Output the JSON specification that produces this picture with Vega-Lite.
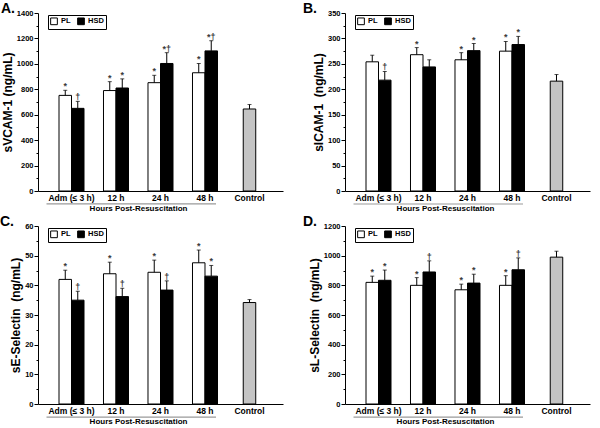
{
  "$schema": "https://vega.github.io/schema/vega-lite/v6.json",
  "padding": {"left": 0, "top": 2, "right": 4, "bottom": 2},
  "background": "white",
  "config": {
    "font": "Liberation Sans",
    "view": {"stroke": null},
    "axis": {"domainColor": "black", "domainWidth": 1, "tickColor": "black", "labelColor": "black", "titleColor": "black", "labelFontWeight": "bold", "titleFontWeight": "bold", "grid": false, "labelOverlap": false},
    "axisY": {"titleFontSize": 12, "titlePadding": 2, "labelFontSize": 7.5, "labelPadding": 1, "format": "d", "labelOverlap": false, "labelBound": false, "labelFlush": false},
    "title": {"fontSize": 14, "fontWeight": "bold", "color": "black", "anchor": "start", "frame": "group", "offset": -7}
  },
  "data": {"values": [
    {"panel": "A", "time": "Adm (≤ 3 h)", "group": "PL", "value": 752, "upper": 792, "note": "*"},
    {"panel": "A", "time": "Adm (≤ 3 h)", "group": "HSD", "value": 650, "upper": 705, "note": "†"},
    {"panel": "A", "time": "12 h", "group": "PL", "value": 790, "upper": 860, "note": "*"},
    {"panel": "A", "time": "12 h", "group": "HSD", "value": 810, "upper": 882, "note": "*"},
    {"panel": "A", "time": "24 h", "group": "PL", "value": 852, "upper": 910, "note": "*"},
    {"panel": "A", "time": "24 h", "group": "HSD", "value": 1003, "upper": 1088, "note": "*†"},
    {"panel": "A", "time": "48 h", "group": "PL", "value": 930, "upper": 1003, "note": "*"},
    {"panel": "A", "time": "48 h", "group": "HSD", "value": 1102, "upper": 1182, "note": "*†"},
    {"panel": "A", "time": "Control", "group": "Control", "value": 645, "upper": 680, "note": ""},
    {"panel": "B", "time": "Adm (≤ 3 h)", "group": "PL", "value": 254, "upper": 267, "note": ""},
    {"panel": "B", "time": "Adm (≤ 3 h)", "group": "HSD", "value": 218, "upper": 235, "note": "†"},
    {"panel": "B", "time": "12 h", "group": "PL", "value": 268, "upper": 282, "note": "*"},
    {"panel": "B", "time": "12 h", "group": "HSD", "value": 244, "upper": 258, "note": ""},
    {"panel": "B", "time": "24 h", "group": "PL", "value": 258, "upper": 272, "note": "*"},
    {"panel": "B", "time": "24 h", "group": "HSD", "value": 276, "upper": 290, "note": "*"},
    {"panel": "B", "time": "48 h", "group": "PL", "value": 275, "upper": 294, "note": "*"},
    {"panel": "B", "time": "48 h", "group": "HSD", "value": 288, "upper": 304, "note": "*"},
    {"panel": "B", "time": "Control", "group": "Control", "value": 216, "upper": 229, "note": ""},
    {"panel": "C", "time": "Adm (≤ 3 h)", "group": "PL", "value": 42.0, "upper": 45.1, "note": "*"},
    {"panel": "C", "time": "Adm (≤ 3 h)", "group": "HSD", "value": 35.0, "upper": 38.0, "note": "†"},
    {"panel": "C", "time": "12 h", "group": "PL", "value": 43.9, "upper": 47.8, "note": "*"},
    {"panel": "C", "time": "12 h", "group": "HSD", "value": 36.2, "upper": 39.0, "note": "†"},
    {"panel": "C", "time": "24 h", "group": "PL", "value": 44.4, "upper": 48.5, "note": "*"},
    {"panel": "C", "time": "24 h", "group": "HSD", "value": 38.4, "upper": 41.5, "note": "†"},
    {"panel": "C", "time": "48 h", "group": "PL", "value": 47.6, "upper": 51.9, "note": "*"},
    {"panel": "C", "time": "48 h", "group": "HSD", "value": 43.1, "upper": 46.7, "note": "*"},
    {"panel": "C", "time": "Control", "group": "Control", "value": 34.2, "upper": 35.2, "note": ""},
    {"panel": "D", "time": "Adm (≤ 3 h)", "group": "PL", "value": 820, "upper": 862, "note": "*"},
    {"panel": "D", "time": "Adm (≤ 3 h)", "group": "HSD", "value": 834, "upper": 903, "note": "*"},
    {"panel": "D", "time": "12 h", "group": "PL", "value": 800, "upper": 852, "note": "*"},
    {"panel": "D", "time": "12 h", "group": "HSD", "value": 890, "upper": 965, "note": "†"},
    {"panel": "D", "time": "24 h", "group": "PL", "value": 770, "upper": 808, "note": "*"},
    {"panel": "D", "time": "24 h", "group": "HSD", "value": 815, "upper": 875, "note": "*"},
    {"panel": "D", "time": "48 h", "group": "PL", "value": 800, "upper": 865, "note": "*"},
    {"panel": "D", "time": "48 h", "group": "HSD", "value": 905, "upper": 985, "note": "†"},
    {"panel": "D", "time": "Control", "group": "Control", "value": 990, "upper": 1030, "note": ""}
  ]},
  "columns": 2,
  "bounds": "flush",
  "spacing": {"row": 35, "column": 62},
  "resolve": {"scale": {"color": "independent"}, "legend": {"color": "independent"}},
  "concat": [
    {
      "width": 245, "height": 178,
      "title": {"text": "A.", "dx": -37},
      "transform": [{"filter": "datum.panel === 'A'"}],
      "layer": [
        {
          "transform": [{"filter": "datum.group !== 'Control'"}],
          "encoding": {
            "x": {"field": "time", "type": "nominal", "scale": {"domain": ["Adm (≤ 3 h)", "12 h", "24 h", "48 h", "Control"], "paddingInner": 0.438, "paddingOuter": 0.472},
              "axis": {"title": "Hours Post-Resuscitation", "titleFontSize": 8, "titleX": 100, "titlePadding": 3, "labelFontSize": 8.5, "labelAngle": 0, "ticks": false, "labelPadding": 2}},
            "xOffset": {"field": "group", "type": "nominal", "scale": {"domain": ["PL", "HSD"], "paddingInner": 0, "paddingOuter": 0}}
          },
          "layer": [
            {"mark": {"type": "bar", "stroke": "black", "strokeWidth": 1},
             "encoding": {
               "y": {"field": "value", "type": "quantitative", "scale": {"domain": [0, 1400], "nice": false},
                 "axis": {"title": "sVCAM-1 (ng/mL)", "values": [0,100,200,300,400,500,600,700,800,900,1000,1100,1200,1300,1400], "labelOpacity": {"condition": {"test": "datum.value % 200 === 0", "value": 1}, "value": 0}, "tickSize": {"condition": {"test": "datum.value % 200 === 0", "value": 4}, "value": 2}}},
               "color": {"field": "group", "type": "nominal", "scale": {"domain": ["PL", "HSD"], "range": ["white", "black"]},
                 "legend": {"orient": "none", "legendX": 10, "legendY": 2, "direction": "horizontal", "title": null, "symbolType": "square", "symbolSize": 45, "symbolStrokeColor": "black", "symbolStrokeWidth": 1, "strokeColor": "black", "fillColor": "white", "padding": 2, "labelFontSize": 7.5, "labelFontWeight": "bold", "labelColor": "black", "columnPadding": 4, "labelOffset": 3}}
             }},
            {"mark": {"type": "rule", "color": "black", "strokeWidth": 1}, "encoding": {"y": {"field": "value", "type": "quantitative", "axis": {"title": "sVCAM-1 (ng/mL)", "values": [0,100,200,300,400,500,600,700,800,900,1000,1100,1200,1300,1400], "labelOpacity": {"condition": {"test": "datum.value % 200 === 0", "value": 1}, "value": 0}, "tickSize": {"condition": {"test": "datum.value % 200 === 0", "value": 4}, "value": 2}}}, "y2": {"field": "upper"}}},
            {"mark": {"type": "tick", "orient": "horizontal", "size": 4, "thickness": 1, "color": "black"}, "encoding": {"y": {"field": "upper", "type": "quantitative", "axis": {"title": "sVCAM-1 (ng/mL)", "values": [0,100,200,300,400,500,600,700,800,900,1000,1100,1200,1300,1400], "labelOpacity": {"condition": {"test": "datum.value % 200 === 0", "value": 1}, "value": 0}, "tickSize": {"condition": {"test": "datum.value % 200 === 0", "value": 4}, "value": 2}}}}},
            {"mark": {"type": "text", "fontSize": 9, "fontWeight": "bold", "baseline": "alphabetic", "dy": -1, "color": "#3a3a3a"}, "encoding": {"y": {"field": "upper", "type": "quantitative", "axis": {"title": "sVCAM-1 (ng/mL)", "values": [0,100,200,300,400,500,600,700,800,900,1000,1100,1200,1300,1400], "labelOpacity": {"condition": {"test": "datum.value % 200 === 0", "value": 1}, "value": 0}, "tickSize": {"condition": {"test": "datum.value % 200 === 0", "value": 4}, "value": 2}}}, "text": {"field": "note"}}}
          ]
        },
        {
          "transform": [{"filter": "datum.group === 'Control'"}],
          "encoding": {"x": {"field": "time", "type": "nominal"}},
          "layer": [
            {"mark": {"type": "bar", "width": {"band": 0.5}, "fill": "#c4c4c4", "stroke": "black", "strokeWidth": 1}, "encoding": {"y": {"field": "value", "type": "quantitative", "axis": {"title": "sVCAM-1 (ng/mL)", "values": [0,100,200,300,400,500,600,700,800,900,1000,1100,1200,1300,1400], "labelOpacity": {"condition": {"test": "datum.value % 200 === 0", "value": 1}, "value": 0}, "tickSize": {"condition": {"test": "datum.value % 200 === 0", "value": 4}, "value": 2}}}}},
            {"mark": {"type": "rule", "color": "black", "strokeWidth": 1}, "encoding": {"y": {"field": "value", "type": "quantitative", "axis": {"title": "sVCAM-1 (ng/mL)", "values": [0,100,200,300,400,500,600,700,800,900,1000,1100,1200,1300,1400], "labelOpacity": {"condition": {"test": "datum.value % 200 === 0", "value": 1}, "value": 0}, "tickSize": {"condition": {"test": "datum.value % 200 === 0", "value": 4}, "value": 2}}}, "y2": {"field": "upper"}}},
            {"mark": {"type": "tick", "orient": "horizontal", "size": 4, "thickness": 1, "color": "black"}, "encoding": {"y": {"field": "upper", "type": "quantitative", "axis": {"title": "sVCAM-1 (ng/mL)", "values": [0,100,200,300,400,500,600,700,800,900,1000,1100,1200,1300,1400], "labelOpacity": {"condition": {"test": "datum.value % 200 === 0", "value": 1}, "value": 0}, "tickSize": {"condition": {"test": "datum.value % 200 === 0", "value": 4}, "value": 2}}}}}
          ]
        },
        {
          "data": {"values": [{"a": 1}]},
          "mark": {"type": "rule", "color": "#9a9a9a", "strokeWidth": 1.2},
          "encoding": {"x": {"datum": "Adm (≤ 3 h)", "bandPosition": -0.5}, "x2": {"datum": "48 h", "bandPosition": 0.94}, "y": {"datum": -102, "type": "quantitative", "axis": {"title": "sVCAM-1 (ng/mL)", "values": [0,100,200,300,400,500,600,700,800,900,1000,1100,1200,1300,1400], "labelOpacity": {"condition": {"test": "datum.value % 200 === 0", "value": 1}, "value": 0}, "tickSize": {"condition": {"test": "datum.value % 200 === 0", "value": 4}, "value": 2}}}}
        }
      ]
    },
    {
      "width": 245, "height": 178,
      "title": {"text": "B.", "dx": -42},
      "transform": [{"filter": "datum.panel === 'B'"}],
      "layer": [
        {
          "transform": [{"filter": "datum.group !== 'Control'"}],
          "encoding": {
            "x": {"field": "time", "type": "nominal", "scale": {"domain": ["Adm (≤ 3 h)", "12 h", "24 h", "48 h", "Control"], "paddingInner": 0.438, "paddingOuter": 0.472},
              "axis": {"title": "Hours Post-Resuscitation", "titleFontSize": 8, "titleX": 100, "titlePadding": 3, "labelFontSize": 8.5, "labelAngle": 0, "ticks": false, "labelPadding": 2}},
            "xOffset": {"field": "group", "type": "nominal", "scale": {"domain": ["PL", "HSD"], "paddingInner": 0, "paddingOuter": 0}}
          },
          "layer": [
            {"mark": {"type": "bar", "stroke": "black", "strokeWidth": 1},
             "encoding": {
               "y": {"field": "value", "type": "quantitative", "scale": {"domain": [0, 350], "nice": false},
                 "axis": {"title": "sICAM-1 \u00a0(ng/mL)", "values": [0,25,50,75,100,125,150,175,200,225,250,275,300,325,350], "labelOpacity": {"condition": {"test": "datum.value % 50 === 0", "value": 1}, "value": 0}, "tickSize": {"condition": {"test": "datum.value % 50 === 0", "value": 4}, "value": 2}}},
               "color": {"field": "group", "type": "nominal", "scale": {"domain": ["PL", "HSD"], "range": ["white", "black"]},
                 "legend": {"orient": "none", "legendX": 10, "legendY": 2, "direction": "horizontal", "title": null, "symbolType": "square", "symbolSize": 45, "symbolStrokeColor": "black", "symbolStrokeWidth": 1, "strokeColor": "black", "fillColor": "white", "padding": 2, "labelFontSize": 7.5, "labelFontWeight": "bold", "labelColor": "black", "columnPadding": 4, "labelOffset": 3}}
             }},
            {"mark": {"type": "rule", "color": "black", "strokeWidth": 1}, "encoding": {"y": {"field": "value", "type": "quantitative", "axis": {"title": "sICAM-1 \u00a0(ng/mL)", "values": [0,25,50,75,100,125,150,175,200,225,250,275,300,325,350], "labelOpacity": {"condition": {"test": "datum.value % 50 === 0", "value": 1}, "value": 0}, "tickSize": {"condition": {"test": "datum.value % 50 === 0", "value": 4}, "value": 2}}}, "y2": {"field": "upper"}}},
            {"mark": {"type": "tick", "orient": "horizontal", "size": 4, "thickness": 1, "color": "black"}, "encoding": {"y": {"field": "upper", "type": "quantitative", "axis": {"title": "sICAM-1 \u00a0(ng/mL)", "values": [0,25,50,75,100,125,150,175,200,225,250,275,300,325,350], "labelOpacity": {"condition": {"test": "datum.value % 50 === 0", "value": 1}, "value": 0}, "tickSize": {"condition": {"test": "datum.value % 50 === 0", "value": 4}, "value": 2}}}}},
            {"mark": {"type": "text", "fontSize": 9, "fontWeight": "bold", "baseline": "alphabetic", "dy": -1, "color": "#3a3a3a"}, "encoding": {"y": {"field": "upper", "type": "quantitative", "axis": {"title": "sICAM-1 \u00a0(ng/mL)", "values": [0,25,50,75,100,125,150,175,200,225,250,275,300,325,350], "labelOpacity": {"condition": {"test": "datum.value % 50 === 0", "value": 1}, "value": 0}, "tickSize": {"condition": {"test": "datum.value % 50 === 0", "value": 4}, "value": 2}}}, "text": {"field": "note"}}}
          ]
        },
        {
          "transform": [{"filter": "datum.group === 'Control'"}],
          "encoding": {"x": {"field": "time", "type": "nominal"}},
          "layer": [
            {"mark": {"type": "bar", "width": {"band": 0.5}, "fill": "#c4c4c4", "stroke": "black", "strokeWidth": 1}, "encoding": {"y": {"field": "value", "type": "quantitative", "axis": {"title": "sICAM-1 \u00a0(ng/mL)", "values": [0,25,50,75,100,125,150,175,200,225,250,275,300,325,350], "labelOpacity": {"condition": {"test": "datum.value % 50 === 0", "value": 1}, "value": 0}, "tickSize": {"condition": {"test": "datum.value % 50 === 0", "value": 4}, "value": 2}}}}},
            {"mark": {"type": "rule", "color": "black", "strokeWidth": 1}, "encoding": {"y": {"field": "value", "type": "quantitative", "axis": {"title": "sICAM-1 \u00a0(ng/mL)", "values": [0,25,50,75,100,125,150,175,200,225,250,275,300,325,350], "labelOpacity": {"condition": {"test": "datum.value % 50 === 0", "value": 1}, "value": 0}, "tickSize": {"condition": {"test": "datum.value % 50 === 0", "value": 4}, "value": 2}}}, "y2": {"field": "upper"}}},
            {"mark": {"type": "tick", "orient": "horizontal", "size": 4, "thickness": 1, "color": "black"}, "encoding": {"y": {"field": "upper", "type": "quantitative", "axis": {"title": "sICAM-1 \u00a0(ng/mL)", "values": [0,25,50,75,100,125,150,175,200,225,250,275,300,325,350], "labelOpacity": {"condition": {"test": "datum.value % 50 === 0", "value": 1}, "value": 0}, "tickSize": {"condition": {"test": "datum.value % 50 === 0", "value": 4}, "value": 2}}}}}
          ]
        },
        {
          "data": {"values": [{"a": 1}]},
          "mark": {"type": "rule", "color": "#9a9a9a", "strokeWidth": 1.2},
          "encoding": {"x": {"datum": "Adm (≤ 3 h)", "bandPosition": -0.5}, "x2": {"datum": "48 h", "bandPosition": 0.94}, "y": {"datum": -25.6, "type": "quantitative", "axis": {"title": "sICAM-1 \u00a0(ng/mL)", "values": [0,25,50,75,100,125,150,175,200,225,250,275,300,325,350], "labelOpacity": {"condition": {"test": "datum.value % 50 === 0", "value": 1}, "value": 0}, "tickSize": {"condition": {"test": "datum.value % 50 === 0", "value": 4}, "value": 2}}}}
        }
      ]
    },
    {
      "width": 245, "height": 178,
      "title": {"text": "C.", "dx": -38},
      "transform": [{"filter": "datum.panel === 'C'"}],
      "layer": [
        {
          "transform": [{"filter": "datum.group !== 'Control'"}],
          "encoding": {
            "x": {"field": "time", "type": "nominal", "scale": {"domain": ["Adm (≤ 3 h)", "12 h", "24 h", "48 h", "Control"], "paddingInner": 0.438, "paddingOuter": 0.472},
              "axis": {"title": "Hours Post-Resuscitation", "titleFontSize": 8, "titleX": 100, "titlePadding": 3, "labelFontSize": 8.5, "labelAngle": 0, "ticks": false, "labelPadding": 2}},
            "xOffset": {"field": "group", "type": "nominal", "scale": {"domain": ["PL", "HSD"], "paddingInner": 0, "paddingOuter": 0}}
          },
          "layer": [
            {"mark": {"type": "bar", "stroke": "black", "strokeWidth": 1},
             "encoding": {
               "y": {"field": "value", "type": "quantitative", "scale": {"domain": [0, 60], "nice": false},
                 "axis": {"title": "sE-Selectin \u00a0(ng/mL)", "values": [0,5,10,15,20,25,30,35,40,45,50,55,60], "labelOpacity": {"condition": {"test": "datum.value % 10 === 0", "value": 1}, "value": 0}, "tickSize": {"condition": {"test": "datum.value % 10 === 0", "value": 4}, "value": 2}}},
               "color": {"field": "group", "type": "nominal", "scale": {"domain": ["PL", "HSD"], "range": ["white", "black"]},
                 "legend": {"orient": "none", "legendX": 10, "legendY": 2, "direction": "horizontal", "title": null, "symbolType": "square", "symbolSize": 45, "symbolStrokeColor": "black", "symbolStrokeWidth": 1, "strokeColor": "black", "fillColor": "white", "padding": 2, "labelFontSize": 7.5, "labelFontWeight": "bold", "labelColor": "black", "columnPadding": 4, "labelOffset": 3}}
             }},
            {"mark": {"type": "rule", "color": "black", "strokeWidth": 1}, "encoding": {"y": {"field": "value", "type": "quantitative", "axis": {"title": "sE-Selectin \u00a0(ng/mL)", "values": [0,5,10,15,20,25,30,35,40,45,50,55,60], "labelOpacity": {"condition": {"test": "datum.value % 10 === 0", "value": 1}, "value": 0}, "tickSize": {"condition": {"test": "datum.value % 10 === 0", "value": 4}, "value": 2}}}, "y2": {"field": "upper"}}},
            {"mark": {"type": "tick", "orient": "horizontal", "size": 4, "thickness": 1, "color": "black"}, "encoding": {"y": {"field": "upper", "type": "quantitative", "axis": {"title": "sE-Selectin \u00a0(ng/mL)", "values": [0,5,10,15,20,25,30,35,40,45,50,55,60], "labelOpacity": {"condition": {"test": "datum.value % 10 === 0", "value": 1}, "value": 0}, "tickSize": {"condition": {"test": "datum.value % 10 === 0", "value": 4}, "value": 2}}}}},
            {"mark": {"type": "text", "fontSize": 9, "fontWeight": "bold", "baseline": "alphabetic", "dy": -1, "color": "#3a3a3a"}, "encoding": {"y": {"field": "upper", "type": "quantitative", "axis": {"title": "sE-Selectin \u00a0(ng/mL)", "values": [0,5,10,15,20,25,30,35,40,45,50,55,60], "labelOpacity": {"condition": {"test": "datum.value % 10 === 0", "value": 1}, "value": 0}, "tickSize": {"condition": {"test": "datum.value % 10 === 0", "value": 4}, "value": 2}}}, "text": {"field": "note"}}}
          ]
        },
        {
          "transform": [{"filter": "datum.group === 'Control'"}],
          "encoding": {"x": {"field": "time", "type": "nominal"}},
          "layer": [
            {"mark": {"type": "bar", "width": {"band": 0.5}, "fill": "#c4c4c4", "stroke": "black", "strokeWidth": 1}, "encoding": {"y": {"field": "value", "type": "quantitative", "axis": {"title": "sE-Selectin \u00a0(ng/mL)", "values": [0,5,10,15,20,25,30,35,40,45,50,55,60], "labelOpacity": {"condition": {"test": "datum.value % 10 === 0", "value": 1}, "value": 0}, "tickSize": {"condition": {"test": "datum.value % 10 === 0", "value": 4}, "value": 2}}}}},
            {"mark": {"type": "rule", "color": "black", "strokeWidth": 1}, "encoding": {"y": {"field": "value", "type": "quantitative", "axis": {"title": "sE-Selectin \u00a0(ng/mL)", "values": [0,5,10,15,20,25,30,35,40,45,50,55,60], "labelOpacity": {"condition": {"test": "datum.value % 10 === 0", "value": 1}, "value": 0}, "tickSize": {"condition": {"test": "datum.value % 10 === 0", "value": 4}, "value": 2}}}, "y2": {"field": "upper"}}},
            {"mark": {"type": "tick", "orient": "horizontal", "size": 4, "thickness": 1, "color": "black"}, "encoding": {"y": {"field": "upper", "type": "quantitative", "axis": {"title": "sE-Selectin \u00a0(ng/mL)", "values": [0,5,10,15,20,25,30,35,40,45,50,55,60], "labelOpacity": {"condition": {"test": "datum.value % 10 === 0", "value": 1}, "value": 0}, "tickSize": {"condition": {"test": "datum.value % 10 === 0", "value": 4}, "value": 2}}}}}
          ]
        },
        {
          "data": {"values": [{"a": 1}]},
          "mark": {"type": "rule", "color": "#9a9a9a", "strokeWidth": 1.2},
          "encoding": {"x": {"datum": "Adm (≤ 3 h)", "bandPosition": -0.5}, "x2": {"datum": "48 h", "bandPosition": 0.94}, "y": {"datum": -4.4, "type": "quantitative", "axis": {"title": "sE-Selectin \u00a0(ng/mL)", "values": [0,5,10,15,20,25,30,35,40,45,50,55,60], "labelOpacity": {"condition": {"test": "datum.value % 10 === 0", "value": 1}, "value": 0}, "tickSize": {"condition": {"test": "datum.value % 10 === 0", "value": 4}, "value": 2}}}}
        }
      ]
    },
    {
      "width": 245, "height": 178,
      "title": {"text": "D.", "dx": -42},
      "transform": [{"filter": "datum.panel === 'D'"}],
      "layer": [
        {
          "transform": [{"filter": "datum.group !== 'Control'"}],
          "encoding": {
            "x": {"field": "time", "type": "nominal", "scale": {"domain": ["Adm (≤ 3 h)", "12 h", "24 h", "48 h", "Control"], "paddingInner": 0.438, "paddingOuter": 0.472},
              "axis": {"title": "Hours Post-Resuscitation", "titleFontSize": 8, "titleX": 100, "titlePadding": 3, "labelFontSize": 8.5, "labelAngle": 0, "ticks": false, "labelPadding": 2}},
            "xOffset": {"field": "group", "type": "nominal", "scale": {"domain": ["PL", "HSD"], "paddingInner": 0, "paddingOuter": 0}}
          },
          "layer": [
            {"mark": {"type": "bar", "stroke": "black", "strokeWidth": 1},
             "encoding": {
               "y": {"field": "value", "type": "quantitative", "scale": {"domain": [0, 1200], "nice": false},
                 "axis": {"title": "sL-Selectin \u00a0(ng/mL)", "values": [0,100,200,300,400,500,600,700,800,900,1000,1100,1200], "labelOpacity": {"condition": {"test": "datum.value % 200 === 0", "value": 1}, "value": 0}, "tickSize": {"condition": {"test": "datum.value % 200 === 0", "value": 4}, "value": 2}}},
               "color": {"field": "group", "type": "nominal", "scale": {"domain": ["PL", "HSD"], "range": ["white", "black"]},
                 "legend": {"orient": "none", "legendX": 10, "legendY": 2, "direction": "horizontal", "title": null, "symbolType": "square", "symbolSize": 45, "symbolStrokeColor": "black", "symbolStrokeWidth": 1, "strokeColor": "black", "fillColor": "white", "padding": 2, "labelFontSize": 7.5, "labelFontWeight": "bold", "labelColor": "black", "columnPadding": 4, "labelOffset": 3}}
             }},
            {"mark": {"type": "rule", "color": "black", "strokeWidth": 1}, "encoding": {"y": {"field": "value", "type": "quantitative", "axis": {"title": "sL-Selectin \u00a0(ng/mL)", "values": [0,100,200,300,400,500,600,700,800,900,1000,1100,1200], "labelOpacity": {"condition": {"test": "datum.value % 200 === 0", "value": 1}, "value": 0}, "tickSize": {"condition": {"test": "datum.value % 200 === 0", "value": 4}, "value": 2}}}, "y2": {"field": "upper"}}},
            {"mark": {"type": "tick", "orient": "horizontal", "size": 4, "thickness": 1, "color": "black"}, "encoding": {"y": {"field": "upper", "type": "quantitative", "axis": {"title": "sL-Selectin \u00a0(ng/mL)", "values": [0,100,200,300,400,500,600,700,800,900,1000,1100,1200], "labelOpacity": {"condition": {"test": "datum.value % 200 === 0", "value": 1}, "value": 0}, "tickSize": {"condition": {"test": "datum.value % 200 === 0", "value": 4}, "value": 2}}}}},
            {"mark": {"type": "text", "fontSize": 9, "fontWeight": "bold", "baseline": "alphabetic", "dy": -1, "color": "#3a3a3a"}, "encoding": {"y": {"field": "upper", "type": "quantitative", "axis": {"title": "sL-Selectin \u00a0(ng/mL)", "values": [0,100,200,300,400,500,600,700,800,900,1000,1100,1200], "labelOpacity": {"condition": {"test": "datum.value % 200 === 0", "value": 1}, "value": 0}, "tickSize": {"condition": {"test": "datum.value % 200 === 0", "value": 4}, "value": 2}}}, "text": {"field": "note"}}}
          ]
        },
        {
          "transform": [{"filter": "datum.group === 'Control'"}],
          "encoding": {"x": {"field": "time", "type": "nominal"}},
          "layer": [
            {"mark": {"type": "bar", "width": {"band": 0.5}, "fill": "#c4c4c4", "stroke": "black", "strokeWidth": 1}, "encoding": {"y": {"field": "value", "type": "quantitative", "axis": {"title": "sL-Selectin \u00a0(ng/mL)", "values": [0,100,200,300,400,500,600,700,800,900,1000,1100,1200], "labelOpacity": {"condition": {"test": "datum.value % 200 === 0", "value": 1}, "value": 0}, "tickSize": {"condition": {"test": "datum.value % 200 === 0", "value": 4}, "value": 2}}}}},
            {"mark": {"type": "rule", "color": "black", "strokeWidth": 1}, "encoding": {"y": {"field": "value", "type": "quantitative", "axis": {"title": "sL-Selectin \u00a0(ng/mL)", "values": [0,100,200,300,400,500,600,700,800,900,1000,1100,1200], "labelOpacity": {"condition": {"test": "datum.value % 200 === 0", "value": 1}, "value": 0}, "tickSize": {"condition": {"test": "datum.value % 200 === 0", "value": 4}, "value": 2}}}, "y2": {"field": "upper"}}},
            {"mark": {"type": "tick", "orient": "horizontal", "size": 4, "thickness": 1, "color": "black"}, "encoding": {"y": {"field": "upper", "type": "quantitative", "axis": {"title": "sL-Selectin \u00a0(ng/mL)", "values": [0,100,200,300,400,500,600,700,800,900,1000,1100,1200], "labelOpacity": {"condition": {"test": "datum.value % 200 === 0", "value": 1}, "value": 0}, "tickSize": {"condition": {"test": "datum.value % 200 === 0", "value": 4}, "value": 2}}}}}
          ]
        },
        {
          "data": {"values": [{"a": 1}]},
          "mark": {"type": "rule", "color": "#9a9a9a", "strokeWidth": 1.2},
          "encoding": {"x": {"datum": "Adm (≤ 3 h)", "bandPosition": -0.5}, "x2": {"datum": "48 h", "bandPosition": 0.94}, "y": {"datum": -88, "type": "quantitative", "axis": {"title": "sL-Selectin \u00a0(ng/mL)", "values": [0,100,200,300,400,500,600,700,800,900,1000,1100,1200], "labelOpacity": {"condition": {"test": "datum.value % 200 === 0", "value": 1}, "value": 0}, "tickSize": {"condition": {"test": "datum.value % 200 === 0", "value": 4}, "value": 2}}}}
        }
      ]
    }
  ]
}
